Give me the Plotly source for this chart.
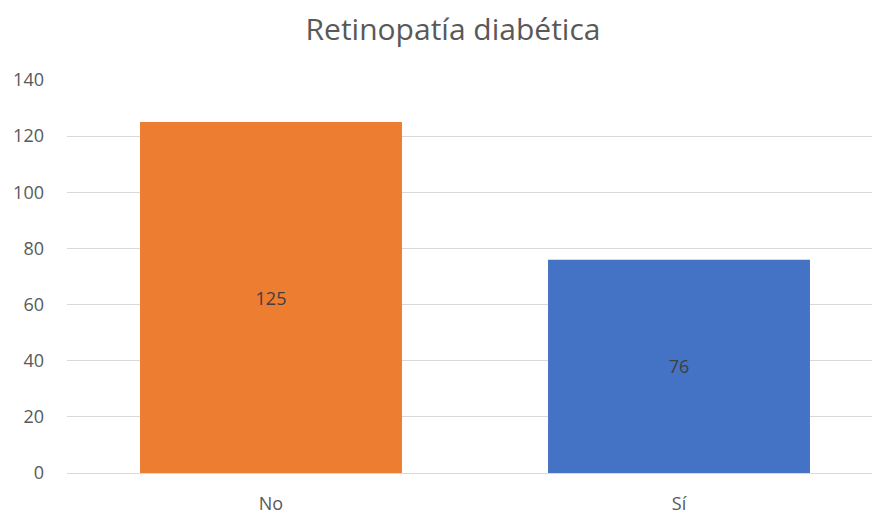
import plotly.graph_objects as go

categories = ["No", "Sí"]
values = [125, 76]
colors = ["#ED7D31", "#4472C4"]
y_ticks = [0, 20, 40, 60, 80, 100, 120, 140]

text_color = "#595959"
font_family = "Open Sans, Noto Sans, sans-serif"

fig = go.Figure(
    go.Bar(
        x=[0, 1],
        y=values,
        marker=dict(color=colors, line=dict(width=0)),
        width=0.642,
        text=[str(v) for v in values],
        textposition="inside",
        insidetextanchor="middle",
        textfont=dict(color="#404040", size=18, family=font_family),
        textangle=0,
        hoverinfo="skip",
    )
)

fig.update_layout(
    width=872,
    height=515,
    margin=dict(l=67, r=0, t=80, b=40),
    paper_bgcolor="white",
    plot_bgcolor="white",
    showlegend=False,
    title=dict(
        text="Retinopatía diabética",
        x=453 / 872,
        xanchor="center",
        y=1 - 29 / 515,
        yanchor="middle",
        font=dict(size=30, color=text_color, family=font_family),
    ),
    font=dict(family=font_family, color=text_color, size=18),
    xaxis=dict(
        range=[-0.5, 1.473],
        tickvals=[0, 1],
        ticktext=categories,
        showgrid=False,
        showline=True,
        linecolor="#D9D9D9",
        linewidth=1,
        ticks="",
        ticklabelstandoff=14,
        tickfont=dict(size=18, color=text_color),
    ),
    yaxis=dict(
        range=[0, 140],
        tickvals=y_ticks,
        showgrid=True,
        gridcolor="#D9D9D9",
        gridwidth=1,
        zeroline=False,
        showline=False,
        ticks="",
        ticklabelstandoff=22,
        tickfont=dict(size=18, color=text_color),
    ),
)

fig.write_html("out.html")
